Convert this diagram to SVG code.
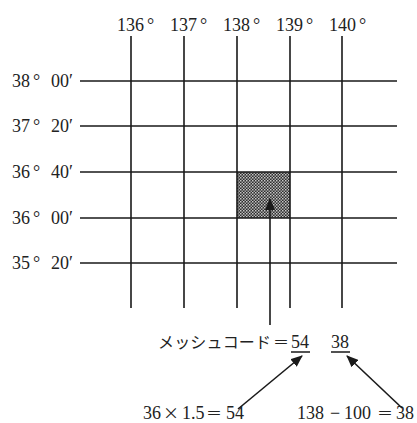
<svg xmlns="http://www.w3.org/2000/svg" width="417" height="423" viewBox="0 0 417 423">
<style>
.g{stroke:#1a1a1a;stroke-width:1.6;fill:none}
.t{font-family:"Liberation Serif","Noto Sans CJK JP",serif;font-size:18px;fill:#222}
.j{font-family:"Noto Sans CJK JP",sans-serif;font-size:16px;fill:#222}
.s{font-family:"Liberation Serif",serif}
.a{stroke:#1a1a1a;stroke-width:1.6;fill:none}
</style>
<defs>
<pattern id="chk" width="3" height="3" patternUnits="userSpaceOnUse">
<rect width="3" height="3" fill="#2e2e2e"/>
<rect x="0" y="0" width="1.5" height="1.5" fill="#c8c8c8"/>
<rect x="1.5" y="1.5" width="1.5" height="1.5" fill="#a8a8a8"/>
</pattern>
<marker id="ah" viewBox="0 0 12 10" refX="11" refY="5" markerWidth="12" markerHeight="10" markerUnits="userSpaceOnUse" orient="auto">
<path d="M0,0 L12,5 L0,10 Z" fill="#1a1a1a"/>
</marker>
</defs>
<g id="grid">
<g id="cell"><rect x="237" y="172" width="53" height="46" fill="url(#chk)"/></g>
<path class="g" d="M131,36V308M184,36V308M237,36V308M290,36V308M342,36V308"/>
<path class="g" d="M80,81H397M80,126H397M80,172H397M80,218H397M80,263H397"/>
</g>
<g id="lon-labels">
<text class="t" x="117" y="31">136<tspan dx="3">°</tspan></text>
<text class="t" x="170" y="31">137<tspan dx="3">°</tspan></text>
<text class="t" x="223" y="31">138<tspan dx="3">°</tspan></text>
<text class="t" x="276" y="31">139<tspan dx="3">°</tspan></text>
<text class="t" x="329" y="31">140<tspan dx="3">°</tspan></text>
</g>
<g id="lat-labels">
<text class="t" x="12" y="87">38<tspan dx="3">°</tspan><tspan x="51">00′</tspan></text>
<text class="t" x="12" y="132">37<tspan dx="3">°</tspan><tspan x="51">20′</tspan></text>
<text class="t" x="12" y="178">36<tspan dx="3">°</tspan><tspan x="51">40′</tspan></text>
<text class="t" x="12" y="224">36<tspan dx="3">°</tspan><tspan x="51">00′</tspan></text>
<text class="t" x="12" y="269">35<tspan dx="3">°</tspan><tspan x="51">20′</tspan></text>
</g>
<g id="code">
<text class="j" x="158" y="348" textLength="113">メッシュコード</text>
<text class="j" x="273" y="348">＝</text>
<text class="t" x="291" y="348">54</text>
<text class="t" x="331" y="348">38</text>
<path class="g" d="M291,352H310M331,352H350"/>
</g>
<g id="calc">
<text class="t" y="419"><tspan x="143">36</tspan><tspan x="163" class="j">×</tspan><tspan x="182">1.5</tspan><tspan x="206" class="j">＝</tspan><tspan x="226">54</tspan></text>
<text class="t" y="419"><tspan x="297">138</tspan><tspan x="330">−</tspan><tspan x="344">100</tspan><tspan x="377" class="j">＝</tspan><tspan x="396">38</tspan></text>
</g>
<g id="connectors">
<line class="a" x1="270" y1="325" x2="270" y2="199" marker-end="url(#ah)"/>
<line class="a" x1="238" y1="409" x2="302" y2="356" marker-end="url(#ah)"/>
<line class="a" x1="402" y1="408" x2="347" y2="356" marker-end="url(#ah)"/>
</g>
</svg>
